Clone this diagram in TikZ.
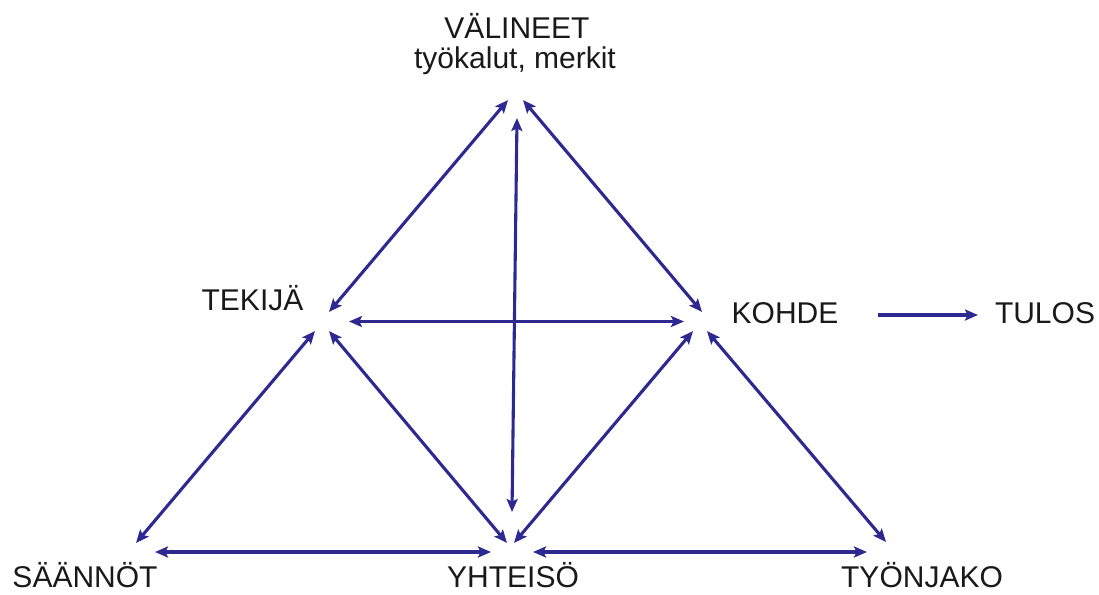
\documentclass[tikz,border=0pt]{standalone}
\usepackage{fontspec}
\setmainfont{Liberation Sans}
\usetikzlibrary{arrows.meta}
\definecolor{arrowblue}{RGB}{46,41,145}
\tikzset{
  lbl/.style={anchor=base, inner sep=0pt, font=\fontsize{30}{34}\selectfont, text=black!90},
  bottomlbl/.style={lbl, text depth=0pt},
  link/.style={draw=arrowblue, line width=3.1pt, {Stealth[length=13pt,width=11pt,inset=2.5pt]}-{Stealth[length=13pt,width=11pt,inset=2.5pt]}},
  onelink/.style={draw=arrowblue, line width=3.1pt, -{Stealth[length=13pt,width=11pt,inset=2.5pt]}}
}
\begin{document}
\begin{tikzpicture}[x=1pt,y=-1pt]
\useasboundingbox (0,0) rectangle (1099,594);
% labels
\node[lbl] (val) at (517,39) {VÄLINEET};
\node[lbl] (valsub) at (515,68) {työkalut, merkit};
\node[lbl] (tek) at (252.5,310) {TEKIJÄ};
\node[lbl] (koh) at (785,323) {KOHDE};
\node[lbl] (tul) at (1045,323) {TULOS};
\node[bottomlbl] (saa) at (85,587) {SÄÄNNÖT};
\node[bottomlbl] (yht) at (513,587) {YHTEISÖ};
\node[bottomlbl] (tyo) at (922,587) {TYÖNJAKO};
% arrow end points
\coordinate (aT) at (508,100);   \coordinate (tA) at (329,312);
\coordinate (aK) at (523,100);   \coordinate (kA) at (702,312);
\coordinate (aY) at (517,118);   \coordinate (yA) at (512,512);
\coordinate (tK) at (349,321.5); \coordinate (kT) at (684,321.5);
\coordinate (sT) at (136,543);   \coordinate (tS) at (315,331);
\coordinate (tY) at (329,331);   \coordinate (yT) at (507,543);
\coordinate (kY) at (693,331);   \coordinate (yK) at (514,543);
\coordinate (kW) at (707,331);   \coordinate (wK) at (886,542);
\coordinate (sY) at (155,552);   \coordinate (yS) at (491,552);
\coordinate (yW) at (533,552);   \coordinate (wY) at (867,552);
\coordinate (kR) at (878,315);   \coordinate (rK) at (978,315);
% connectors
\draw[link] (aT) -- (tA);
\draw[link] (aK) -- (kA);
\draw[link] (aY) -- (yA);
\draw[link] (tK) -- (kT);
\draw[link] (sT) -- (tS);
\draw[link] (tY) -- (yT);
\draw[link] (kY) -- (yK);
\draw[link] (kW) -- (wK);
\draw[link] (sY) -- (yS);
\draw[link] (yW) -- (wY);
\draw[onelink] (kR) -- (rK);
\end{tikzpicture}
\end{document}
